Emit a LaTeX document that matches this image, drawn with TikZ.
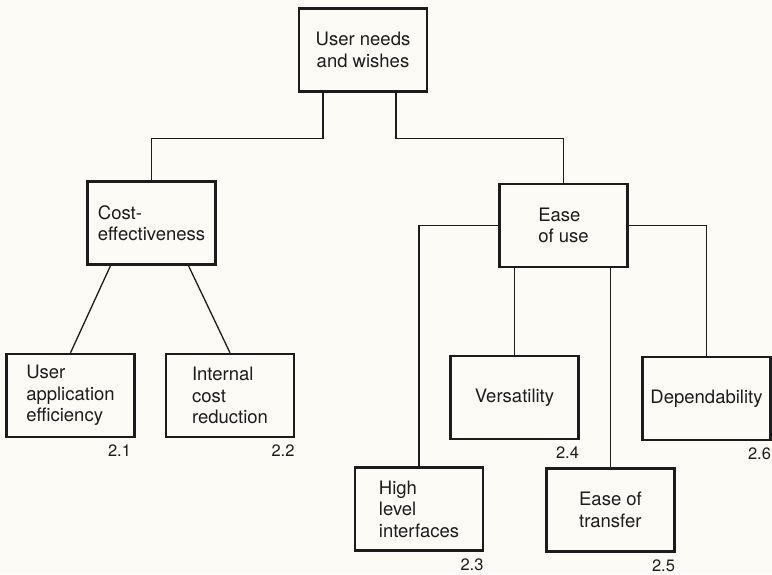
\documentclass[tikz,border=0pt]{standalone}
\usepackage{fontspec}
\setmainfont{TeX Gyre Heros}
\definecolor{ink}{RGB}{28,28,28}
\definecolor{paper}{RGB}{252,251,246}
\begin{document}
\begin{tikzpicture}[x=1pt,y=-1pt,
  box/.style={draw=ink, line width=2.4pt, minimum width=128pt, minimum height=83pt,
    align=left, inner sep=0pt, text=ink, font=\fontsize{18.5}{21.5}\selectfont},
  link/.style={draw=ink, line width=1.3pt},
  num/.style={anchor=north east, inner sep=0.5pt, text=ink, font=\fontsize{16.5}{20}\selectfont}]
\fill[paper] (0,0) rectangle (772,574);
\useasboundingbox (0,0) rectangle (772,574);

% boxes
\node[box, align=center] (top) at (363,50) {User needs\\and wishes};
\node[box] (cost) at (151.5,223) {Cost-\\effectiveness};
\node[box] (ease) at (563.5,225.5) {Ease\\of use};
\node[box] (ua) at (70.5,395.5) {User\\application\\efficiency};
\node[box] (icr) at (230,395.5) {Internal\\cost\\reduction};
\node[box] (vers) at (514.5,397.5) {Versatility};
\node[box] (dep) at (706.5,398.5) {Dependability};
\node[box] (hli) at (419,509) {High\\level\\interfaces};
\node[box] (eot) at (610.5,510) {Ease of\\transfer};

% connectors
\draw[link] ([xshift=-40pt]top.south) -- ++(0,46) -| (cost.north);
\draw[link] ([xshift=33pt]top.south) -- ++(0,46) -| (ease.north);
\draw[link] (ease.west) -| (hli.north);
\draw[link] (ease.east) -| (dep.north);
\draw[link] (ease.south -| vers.north) -- (vers.north);
\draw[link] (ease.south -| eot.north) -- (eot.north);
\draw[link] ([xshift=-41pt]cost.south) -- (ua.north);
\draw[link] ([xshift=37pt]cost.south) -- (icr.north);

% reference numbers
\node[num] (n21) at ([xshift=-4pt,yshift=-6pt]ua.south east) {2.1};
\node[num] (n22) at ([yshift=-6pt]icr.south east) {2.2};
\node[num] (n23) at ([yshift=-6pt]hli.south east) {2.3};
\node[num] (n24) at ([yshift=-6pt]vers.south east) {2.4};
\node[num] (n25) at ([yshift=-6pt]eot.south east) {2.5};
\node[num] (n26) at ([yshift=-6pt]dep.south east) {2.6};
\end{tikzpicture}
\end{document}
